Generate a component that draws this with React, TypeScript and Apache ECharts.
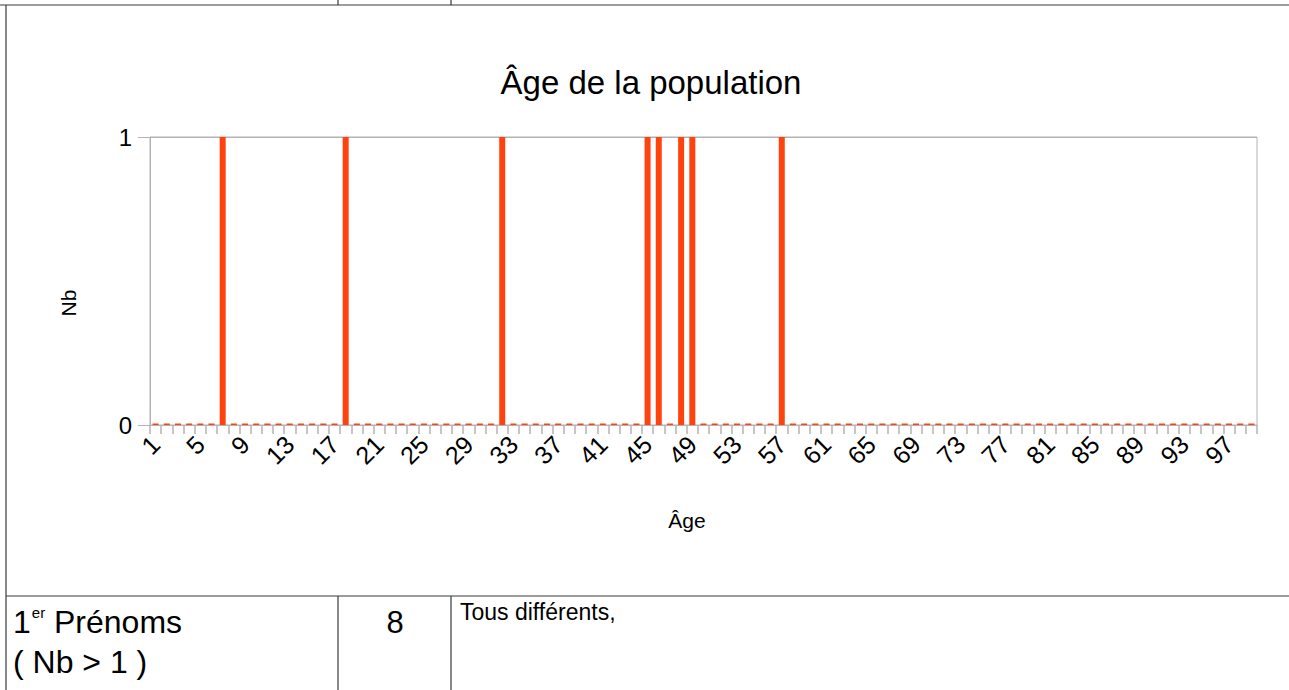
import React, { useEffect, useRef } from "react";
import * as echarts from "echarts";

const TITLE = "Âge de la population";
const X_NAME = "Âge";
const Y_NAME = "Nb";
const FIRST_AGE = 1;
const LAST_AGE = 99;
// ages that appear once in the population (count 1), all others are 0
const AGES_WITH_ONE = [7, 18, 32, 45, 46, 48, 49, 57];
const Y_TICKS = [0, 1];

const categories: string[] = [];
for (let a = FIRST_AGE; a <= LAST_AGE; a++) categories.push(String(a));
const counts: number[] = categories.map((c) => (AGES_WITH_ONE.includes(Number(c)) ? 1 : 0));

const TABLE_ROW_LABEL = "( Nb > 1 )";
const TABLE_VALUE = "8";
const TABLE_COMMENT = "Tous différents,";

export default function App() {
  const ref = useRef<HTMLDivElement>(null);
  useEffect(() => {
    if (!ref.current) return;
    const chart = echarts.init(ref.current, null, { renderer: "svg" });
    const lineStyle = { stroke: "#3a3a3a", lineWidth: 1.2 };
    const grey = "#b3b3b3";
    const fam = "'Liberation Sans'";
    chart.setOption({
      animation: false,
      backgroundColor: "#ffffff",
      title: {
        text: TITLE,
        left: 646,
        top: 61,
        textAlign: "center",
        textStyle: { fontFamily: "Liberation Sans", fontSize: 33, fontWeight: "normal", color: "#000" },
      },
      grid: {
        left: 150,
        right: 32,
        top: 137,
        bottom: 265,
        show: true,
        borderColor: grey,
        borderWidth: 1,
      },
      xAxis: {
        type: "category",
        data: categories,
        axisLine: { lineStyle: { color: grey } },
        axisTick: { show: true, interval: 0, length: 9, lineStyle: { color: grey, width: 1.5 } },
        axisLabel: {
          interval: 3,
          rotate: 45,
          margin: 15,
          fontFamily: "Liberation Sans",
          fontSize: 25,
          color: "#000",
        },
        splitLine: { show: false },
      },
      yAxis: {
        type: "value",
        min: Y_TICKS[0],
        max: Y_TICKS[Y_TICKS.length - 1],
        interval: 1,
        axisLine: { show: true, lineStyle: { color: grey } },
        axisTick: { show: true, length: 12, lineStyle: { color: grey } },
        axisLabel: { margin: 18, fontFamily: "Liberation Sans", fontSize: 24, color: "#000" },
        splitLine: { show: true, lineStyle: { color: grey } },
      },
      series: [
        {
          type: "bar",
          data: counts,
          barWidth: 6,
          barMinHeight: 1.5,
          itemStyle: { color: "#ff420e" },
        },
      ],
      graphic: [
        { type: "line", shape: { x1: 0, y1: 5, x2: 1289, y2: 5 }, style: lineStyle },
        { type: "line", shape: { x1: 338, y1: 0, x2: 338, y2: 5 }, style: lineStyle },
        { type: "line", shape: { x1: 451, y1: 0, x2: 451, y2: 5 }, style: lineStyle },
        { type: "line", shape: { x1: 6, y1: 5, x2: 6, y2: 690 }, style: lineStyle },
        { type: "line", shape: { x1: 6, y1: 596, x2: 1289, y2: 596 }, style: lineStyle },
        { type: "line", shape: { x1: 338, y1: 596, x2: 338, y2: 690 }, style: lineStyle },
        { type: "line", shape: { x1: 451, y1: 596, x2: 451, y2: 690 }, style: lineStyle },
        {
          type: "text",
          x: 68,
          y: 303,
          rotation: Math.PI / 2,
          style: {
            text: Y_NAME,
            font: "21px " + fam,
            fill: "#000",
            align: "center",
            verticalAlign: "middle",
          },
        },
        {
          type: "text",
          x: 687,
          y: 520,
          style: {
            text: X_NAME,
            font: "21px " + fam,
            fill: "#000",
            align: "center",
            verticalAlign: "middle",
          },
        },
        {
          type: "text",
          x: 13,
          y: 622,
          style: {
            text: "{n|1}{s|er}{n| Prénoms}",
            verticalAlign: "middle",
            rich: {
              n: { fontFamily: "Liberation Sans", fontSize: 32, fill: "#000", lineHeight: 34 },
              s: { fontFamily: "Liberation Sans", fontSize: 15, fill: "#000", verticalAlign: "top", lineHeight: 34, padding: [0, 0, 16, 1] },
            },
          },
        },
        {
          type: "text",
          x: 13,
          y: 662,
          style: {
            text: TABLE_ROW_LABEL,
            font: "32px " + fam,
            fill: "#000",
            verticalAlign: "middle",
          },
        },
        {
          type: "text",
          x: 395,
          y: 622,
          style: {
            text: TABLE_VALUE,
            font: "31px " + fam,
            fill: "#000",
            align: "center",
            verticalAlign: "middle",
          },
        },
        {
          type: "text",
          x: 460,
          y: 612,
          style: {
            text: TABLE_COMMENT,
            font: "23px " + fam,
            fill: "#000",
            verticalAlign: "middle",
          },
        },
      ],
    });
    return () => chart.dispose();
  }, []);
  return (
    <div
      ref={ref}
      style={{ position: "absolute", left: 0, top: 0, width: 1289, height: 690 }}
    />
  );
}
